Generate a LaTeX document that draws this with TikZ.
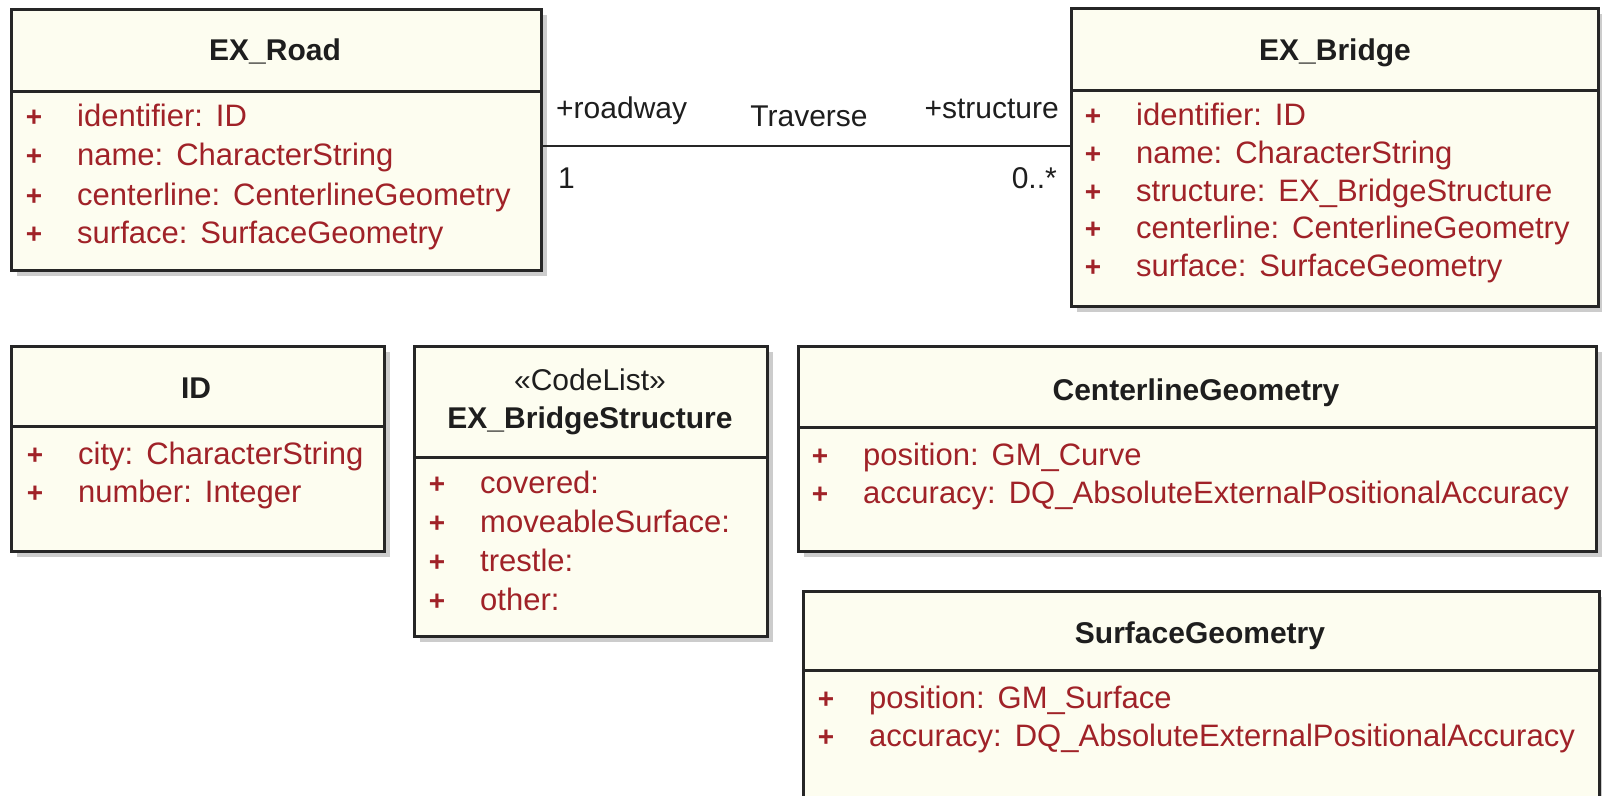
\documentclass[tikz,border=0pt]{standalone}
\usepackage{fontspec}
\setmainfont{Liberation Sans}
\usetikzlibrary{shadows,calc}

\definecolor{attrred}{RGB}{160,34,40}
\definecolor{boxfill}{RGB}{253,253,240}
\definecolor{boxline}{RGB}{38,38,38}
\definecolor{inkgray}{RGB}{30,30,30}

% gap between an attribute name and its type
\newcommand\attrsep{\hspace{0.42em}}
% one attribute row: node name, x of the "+", y of the row, text
\newcommand\umlattr[4]{%
  \node[plusmark] (#1-p) at (#2,#3) {+};
  \node[attrtext] (#1) at (#2+43,#3) {#4};}

\begin{document}
\begin{tikzpicture}[x=1pt,y=-1pt,
  classbox/.style={draw=boxline, line width=3pt, fill=boxfill, inner sep=0pt,
    anchor=north west,
    drop shadow={shadow xshift=5pt, shadow yshift=-5pt, fill=black, opacity=.2}},
  divider/.style={draw=boxline, line width=3pt},
  classtitle/.style={font=\fontsize{30}{34}\selectfont\bfseries, text=inkgray,
    inner sep=0pt, text height=22pt, text depth=6pt},
  stereo/.style={font=\fontsize{30}{34}\selectfont, text=inkgray,
    inner sep=0pt, text height=22pt, text depth=6pt},
  attrtext/.style={font=\fontsize{31}{36}\selectfont, text=attrred, anchor=west,
    inner sep=0pt, text height=22pt, text depth=6pt},
  plusmark/.style={font=\fontsize{28}{32}\selectfont\bfseries, text=attrred,
    inner sep=0pt},
  assoc/.style={draw=boxline, line width=2.4pt},
  rolelabel/.style={font=\fontsize{30}{34}\selectfont, text=inkgray,
    inner sep=0pt, text height=22pt, text depth=6pt}
]
\useasboundingbox[fill=white] (0,0) rectangle (1602,795);

% ---------- EX_Road ----------
\node[classbox, minimum width=530pt, minimum height=261pt] (road) at (10,8) {};
\draw[divider] ([yshift=-83pt]road.north west) -- ([yshift=-83pt]road.north east);
\node[classtitle] (road-t) at (275,52) {EX\_Road};
\umlattr{road-a1}{34}{118}{identifier:\attrsep ID}
\umlattr{road-a2}{34}{157}{name:\attrsep CharacterString}
\umlattr{road-a3}{34}{197}{centerline:\attrsep CenterlineGeometry}
\umlattr{road-a4}{34}{235}{surface:\attrsep SurfaceGeometry}

% ---------- EX_Bridge ----------
\node[classbox, minimum width=527pt, minimum height=298pt] (bridge) at (1070,7) {};
\draw[divider] ([yshift=-83pt]bridge.north west) -- ([yshift=-83pt]bridge.north east);
\node[classtitle] (bridge-t) at (1335,52) {EX\_Bridge};
\umlattr{br-a1}{1093}{117}{identifier:\attrsep ID}
\umlattr{br-a2}{1093}{155}{name:\attrsep CharacterString}
\umlattr{br-a3}{1093}{193}{structure:\attrsep EX\_BridgeStructure}
\umlattr{br-a4}{1093}{230}{centerline:\attrsep CenterlineGeometry}
\umlattr{br-a5}{1093}{268}{surface:\attrsep SurfaceGeometry}

% ---------- Traverse association ----------
\coordinate (assocy) at (0,146);
\draw[assoc] (road.east |- assocy) -- (bridge.west |- assocy);
\node[rolelabel, anchor=west] (role-road) at (556,110) {+roadway};
\node[rolelabel] (assoc-name) at (809,118) {Traverse};
\node[rolelabel, anchor=east] (role-bridge) at (1059,110) {+structure};
\node[rolelabel, anchor=west] (mult-road) at (558,180) {1};
\node[rolelabel, anchor=east] (mult-bridge) at (1057,180) {0..*};

% ---------- ID ----------
\node[classbox, minimum width=373pt, minimum height=205pt] (id) at (10,345) {};
\draw[divider] ([yshift=-81pt]id.north west) -- ([yshift=-81pt]id.north east);
\node[classtitle] (id-t) at (196,390) {ID};
\umlattr{id-a1}{35}{456}{city:\attrsep CharacterString}
\umlattr{id-a2}{35}{494}{number:\attrsep Integer}

% ---------- EX_BridgeStructure ----------
\node[classbox, minimum width=353pt, minimum height=290pt] (bs) at (413,345) {};
\draw[divider] ([yshift=-112pt]bs.north west) -- ([yshift=-112pt]bs.north east);
\node[stereo] (bs-s) at (590,382) {«CodeList»};
\node[classtitle] (bs-t) at (590,420) {EX\_BridgeStructure};
\umlattr{bs-a1}{437}{485}{covered:}
\umlattr{bs-a2}{437}{524}{moveableSurface:}
\umlattr{bs-a3}{437}{563}{trestle:}
\umlattr{bs-a4}{437}{602}{other:}

% ---------- CenterlineGeometry ----------
\node[classbox, minimum width=798pt, minimum height=205pt] (cg) at (797,345) {};
\draw[divider] ([yshift=-82pt]cg.north west) -- ([yshift=-82pt]cg.north east);
\node[classtitle] (cg-t) at (1196,392) {CenterlineGeometry};
\umlattr{cg-a1}{820}{457}{position:\attrsep GM\_Curve}
\umlattr{cg-a2}{820}{495}{accuracy:\attrsep DQ\_AbsoluteExternalPositionalAccuracy}

% ---------- SurfaceGeometry ----------
\node[classbox, minimum width=796pt, minimum height=215pt] (sg) at (802,590) {};
\draw[divider] ([yshift=-80pt]sg.north west) -- ([yshift=-80pt]sg.north east);
\node[classtitle] (sg-t) at (1200,635) {SurfaceGeometry};
\umlattr{sg-a1}{826}{700}{position:\attrsep GM\_Surface}
\umlattr{sg-a2}{826}{738}{accuracy:\attrsep DQ\_AbsoluteExternalPositionalAccuracy}
\end{tikzpicture}
\end{document}
